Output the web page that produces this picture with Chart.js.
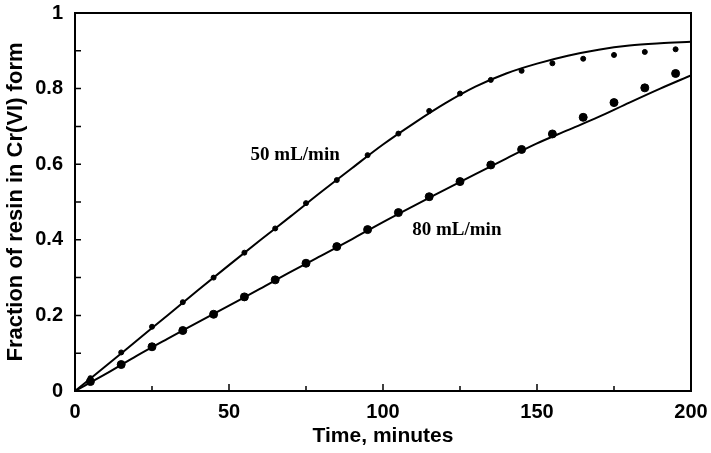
<!DOCTYPE html>
<html>
<head>
<meta charset="utf-8">
<script src="https://cdn.jsdelivr.net/npm/chart.js@4.4.0/dist/chart.umd.min.js"></script>
<style>
    html, body { margin: 0; padding: 0; background: #fff; }
    #wrap { width: 711px; height: 453px; }
</style>
</head>
<body>
<div id="wrap"><canvas id="resinChart" width="711" height="453"></canvas></div>
<script>
// measured points, one every 10 minutes
const sampleTimes = [5, 15, 25, 35, 45, 55, 65, 75, 85, 95, 105, 115, 125, 135, 145, 155, 165, 175, 185, 195];
const measured50 = [0.034, 0.102, 0.170, 0.235, 0.300, 0.366, 0.430, 0.497, 0.558, 0.624, 0.681, 0.741, 0.787, 0.823, 0.847, 0.867, 0.879, 0.889, 0.897, 0.904];
const measured80 = [0.025, 0.070, 0.117, 0.160, 0.203, 0.249, 0.294, 0.338, 0.382, 0.427, 0.472, 0.514, 0.554, 0.598, 0.639, 0.680, 0.724, 0.763, 0.802, 0.840];

// model curves
const modelTimes = [0, 10, 20, 30, 40, 50, 60, 70, 80, 90, 100, 110, 120, 130, 140, 150, 160, 170, 180, 190, 200];
const model50 = [0, 0.066, 0.133, 0.200, 0.267, 0.333, 0.398, 0.462, 0.527, 0.590, 0.652, 0.708, 0.760, 0.805, 0.840, 0.866, 0.887, 0.903, 0.914, 0.920, 0.924];
const model80 = [0, 0.045, 0.093, 0.138, 0.182, 0.226, 0.270, 0.315, 0.358, 0.402, 0.447, 0.490, 0.532, 0.574, 0.615, 0.655, 0.690, 0.725, 0.763, 0.800, 0.835];

const xTickLabels = [0, 50, 100, 150, 200];
const yTickLabels = [0, 0.2, 0.4, 0.6, 0.8, 1];

// curve labels: text and where they sit (minutes, fraction)
const curveLabels = [
    { text: '50 mL/min', x: 57, y: 0.624 },
    { text: '80 mL/min', x: 109.5, y: 0.426 }
];

const toPoints = (xs, ys) => xs.map((x, i) => ({ x: x, y: ys[i] }));

// frame plus inward tick marks
const framePlugin = {
    id: 'frame',
    afterDatasetsDraw(chart) {
        const ctx = chart.ctx;
        const area = chart.chartArea;
        const xs = chart.scales.x;
        const ys = chart.scales.y;
        ctx.save();
        ctx.strokeStyle = '#000';
        ctx.lineWidth = 2;
        ctx.strokeRect(area.left, area.top, area.right - area.left, area.bottom - area.top);

        ctx.lineWidth = 1.5;
        ctx.beginPath();
        xs.ticks.forEach(t => {
            const px = xs.getPixelForValue(t.value);
            const len = t.value % 50 === 0 ? 7 : 5;
            ctx.moveTo(px, area.bottom);
            ctx.lineTo(px, area.bottom - len);
        });
        ys.ticks.forEach(t => {
            const py = ys.getPixelForValue(t.value);
            ctx.moveTo(area.left, py);
            ctx.lineTo(area.left + 6, py);
        });
        ctx.stroke();

        ctx.fillStyle = '#000';
        ctx.font = 'bold 19px "Liberation Serif", "DejaVu Serif", serif';
        ctx.textAlign = 'left';
        ctx.textBaseline = 'middle';
        curveLabels.forEach(l => {
            ctx.fillText(l.text, xs.getPixelForValue(l.x), ys.getPixelForValue(l.y));
        });
        ctx.restore();
    }
};

const tickFont = { family: '"Liberation Sans", Arial, sans-serif', size: 20, weight: 'bold' };

new Chart(document.getElementById('resinChart').getContext('2d'), {
    type: 'scatter',
    data: {
        datasets: [
            {
                label: '50 mL/min model',
                type: 'line',
                data: toPoints(modelTimes, model50),
                borderColor: '#000',
                borderWidth: 2,
                pointRadius: 0,
                cubicInterpolationMode: 'monotone',
                fill: false
            },
            {
                label: '80 mL/min model',
                type: 'line',
                data: toPoints(modelTimes, model80),
                borderColor: '#000',
                borderWidth: 2,
                pointRadius: 0,
                cubicInterpolationMode: 'monotone',
                fill: false
            },
            {
                label: '50 mL/min',
                data: toPoints(sampleTimes, measured50),
                backgroundColor: '#000',
                borderColor: '#000',
                pointRadius: 2.5,
                showLine: false
            },
            {
                label: '80 mL/min',
                data: toPoints(sampleTimes, measured80),
                backgroundColor: '#000',
                borderColor: '#000',
                pointRadius: 4,
                showLine: false
            }
        ]
    },
    options: {
        responsive: false,
        animation: false,
        layout: { padding: { top: 13, right: 20, left: 0, bottom: 0 } },
        plugins: {
            legend: { display: false },
            tooltip: { enabled: false }
        },
        scales: {
            x: {
                type: 'linear',
                min: 0,
                max: 200,
                grid: { display: false, drawTicks: false },
                border: { display: false },
                ticks: {
                    stepSize: 25,
                    padding: 9,
                    color: '#000',
                    font: tickFont,
                    maxRotation: 0,
                    callback: v => xTickLabels.includes(v) ? String(v) : ''
                },
                title: {
                    display: true,
                    text: 'Time, minutes',
                    color: '#000',
                    font: { family: '"Liberation Sans", Arial, sans-serif', size: 21, weight: 'bold' },
                    padding: { top: 0, bottom: 4 }
                },
                afterFit: scale => {
                    scale.height = 62;
                    scale.paddingLeft = 0;
                    scale.paddingRight = 0;
                }
            },
            y: {
                type: 'linear',
                min: 0,
                max: 1,
                grid: { display: false, drawTicks: false },
                border: { display: false },
                ticks: {
                    stepSize: 0.1,
                    padding: 12,
                    color: '#000',
                    font: tickFont,
                    callback: v => {
                        const r = Math.round(v * 10) / 10;
                        return yTickLabels.includes(r) ? (r === 0 || r === 1 ? String(r) : r.toFixed(1)) : '';
                    }
                },
                title: {
                    display: true,
                    text: 'Fraction of resin in Cr(VI) form',
                    color: '#000',
                    font: { family: '"Liberation Sans", Arial, sans-serif', size: 22, weight: 'bold' },
                    padding: { top: 3, bottom: 0 }
                },
                afterFit: scale => {
                    scale.width = 75;
                    scale.paddingTop = 0;
                    scale.paddingBottom = 0;
                }
            }
        }
    },
    plugins: [framePlugin]
});
</script>
</body>
</html>
